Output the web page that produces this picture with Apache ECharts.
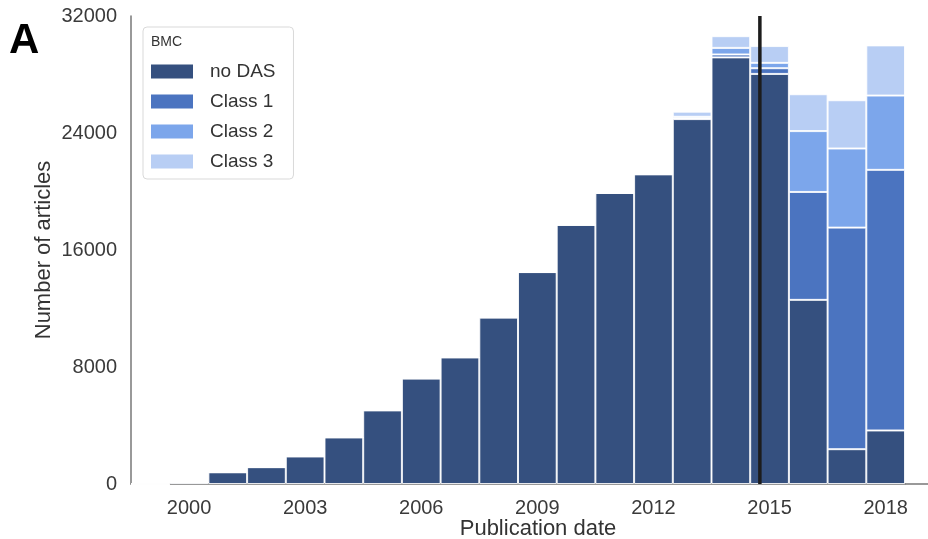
<!DOCTYPE html>
<html>
<head>
<meta charset="utf-8">
<script src="https://cdn.jsdelivr.net/npm/echarts@6/dist/echarts.min.js"></script>
<style>
html,body{margin:0;padding:0;background:#fff;}
#chart{width:928px;height:539px;}
</style>
</head>
<body>
<div id="chart"></div>
<script>
const years = ['1999','2000','2001','2002','2003','2004','2005','2006','2007','2008','2009','2010','2011','2012','2013','2014','2015','2016','2017','2018'];
const noDAS  = [0, 100, 800, 1150, 1880, 3180, 5030, 7210, 8650, 11380, 14490, 17720, 19900, 21170, 24950, 29170, 28040, 12590, 2380, 3660];
const class1 = [0, 0, 0, 0, 0, 0, 0, 0, 0, 0, 0, 0, 0, 0, 60, 200, 390, 7380, 15150, 17820];
const class2 = [0, 0, 0, 0, 0, 0, 0, 0, 0, 0, 0, 0, 0, 0, 100, 450, 365, 4160, 5410, 5080];
const class3 = [0, 0, 0, 0, 0, 0, 0, 0, 0, 0, 0, 0, 0, 0, 350, 800, 1150, 2520, 3300, 3430];
const seriesNames = ['no DAS', 'Class 1', 'Class 2', 'Class 3'];
const yTicks = [0, 8000, 16000, 24000, 32000];
const cutoffYear = 2014.75;

const FONT = "'Liberation Sans', Arial, sans-serif";
const colors = ['#35507f', '#4b74c0', '#7ca6eb', '#b8cef4'];
const chart = echarts.init(document.getElementById('chart'), null, {renderer: 'canvas'});

const barSeries = [noDAS, class1, class2, class3].map((d, i) => ({
  name: seriesNames[i],
  type: 'bar',
  stack: 'total',
  data: d,
  barCategoryGap: 0,
  itemStyle: {color: colors[i], borderColor: 'rgba(255,255,255,0.85)', borderWidth: 1},
  emphasis: {disabled: true}
}));

chart.setOption({
  animation: false,
  textStyle: {fontFamily: FONT},
  title: [
    {text: 'A', left: 9, top: 20, padding: 0, textStyle: {fontFamily: FONT, fontSize: 42, fontWeight: 'bold', color: '#000'}},
    {text: 'BMC', left: 151, top: 35, padding: 0, textStyle: {fontFamily: FONT, fontSize: 14, fontWeight: 'normal', color: '#333'}}
  ],
  legend: {
    data: seriesNames,
    orient: 'vertical',
    left: 143,
    top: 27,
    padding: [35, 18, 8, 8],
    itemWidth: 42,
    itemHeight: 14,
    itemGap: 11,
    icon: 'rect',
    backgroundColor: '#fff',
    borderColor: '#d9d9d9',
    borderWidth: 1,
    borderRadius: 4,
    itemStyle: {borderWidth: 0},
    textStyle: {fontFamily: FONT, fontSize: 19, color: '#333', lineHeight: 18, padding: [0, 0, 0, 12]}
  },
  grid: {left: 131, right: 23, top: 16, bottom: 55, containLabel: false, outerBoundsMode: 'none'},
  xAxis: [
    {
      type: 'category',
      data: years,
      name: 'Publication date',
      nameLocation: 'middle',
      nameGap: 34,
      nameMoveOverlap: false,
      nameTextStyle: {fontFamily: FONT, fontSize: 22, color: '#333', padding: [0, 0, 0, 40]},
      axisLine: {show: true, lineStyle: {color: '#777', width: 1.5}},
      axisTick: {show: false},
      axisLabel: {
        interval: (idx) => (idx - 1) % 3 === 0,
        margin: 14,
        fontFamily: FONT, fontSize: 20, color: '#3a3a3a'
      },
      splitLine: {show: false}
    },
    {
      type: 'value',
      min: 1998.5,
      max: 2018.5,
      show: false
    }
  ],
  yAxis: {
    type: 'value',
    min: yTicks[0],
    max: yTicks[yTicks.length - 1],
    interval: yTicks[1] - yTicks[0],
    name: 'Number of articles',
    nameLocation: 'middle',
    nameGap: 76,
    nameMoveOverlap: false,
    nameTextStyle: {fontFamily: FONT, fontSize: 22, color: '#333'},
    axisLine: {show: true, lineStyle: {color: '#777', width: 1.5}},
    axisTick: {show: false},
    axisLabel: {margin: 14, fontFamily: FONT, fontSize: 20, color: '#3a3a3a', formatter: (v) => String(v)},
    splitLine: {show: false}
  },
  graphic: [
    {type: 'line', shape: {x1: 905, y1: 484, x2: 928, y2: 484}, style: {stroke: '#777', lineWidth: 1.5}, silent: true}
  ],
  series: barSeries.concat([{
    type: 'line',
    xAxisIndex: 1,
    data: [[cutoffYear, yTicks[0]], [cutoffYear, yTicks[yTicks.length - 1]]],
    symbol: 'none',
    lineStyle: {color: '#1c1c1c', width: 3.5},
    z: 10,
    silent: true
  }])
});
</script>
</body>
</html>
